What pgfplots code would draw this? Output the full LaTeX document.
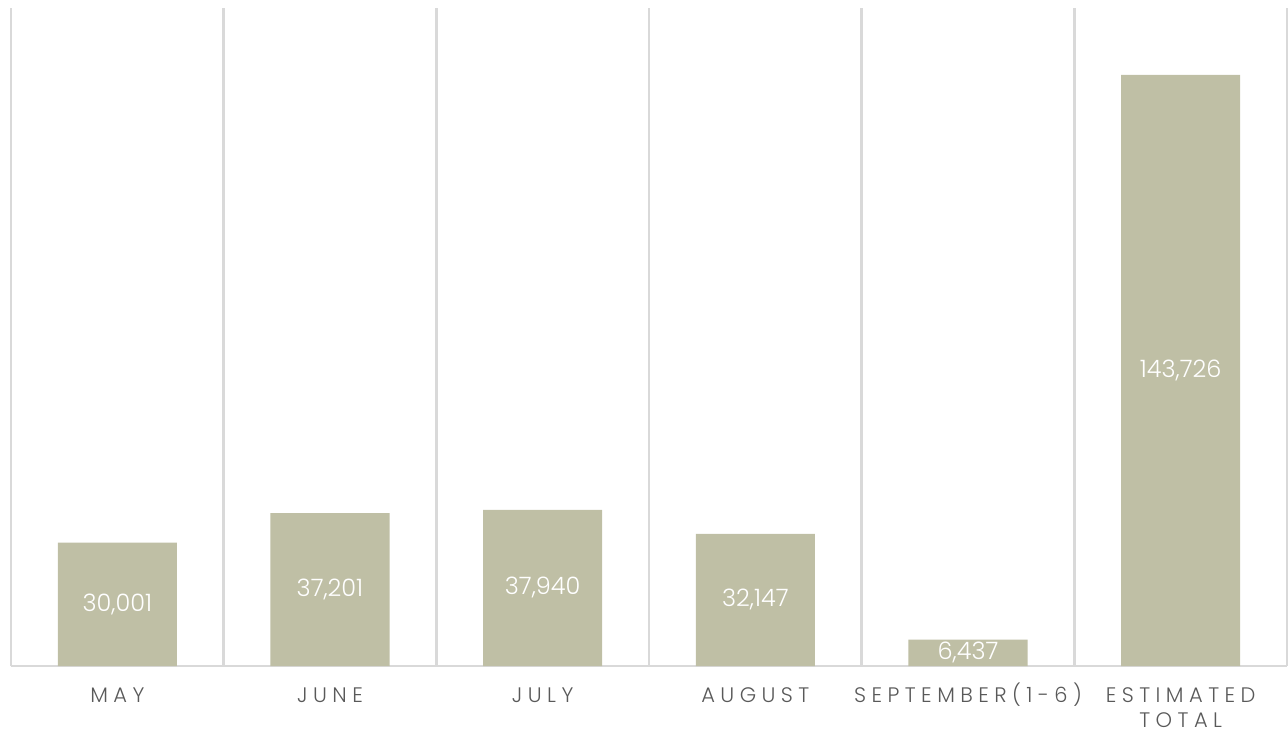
\documentclass[border=0pt]{standalone}
\usepackage{pgfplots}
\pgfplotsset{compat=1.18}
\usepackage{pgfplotstable}
\usepackage{fontspec}
\setmainfont{Poppins Light}
\newfontfamily\lblfont[LetterSpace=26]{Poppins Light}
\newcommand\tstrut{\rule{0pt}{11bp}}
\definecolor{barc}{RGB}{191,191,165}
\definecolor{gridc}{RGB}{217,217,217}
\definecolor{txtc}{RGB}{89,89,89}
\pgfplotstableread{
x v label
0 30001 30,001
1 37201 37,201
2 37940 37,940
3 32147 32,147
4 6437 6,437
5 143726 143,726
}\datatab
\begin{document}
\begin{tikzpicture}[x=1pt,y=1pt]
\useasboundingbox (-5.5bp,-34.5bp) rectangle (638.5bp,333bp);
\begin{axis}[
  at={(0,0)}, anchor=south west,
  scale only axis,
  width=638bp, height=329bp,
  xmin=-0.5, xmax=5.5,
  ymin=0, ymax=160000,
  axis x line=bottom,
  axis y line=none,
  x axis line style={gridc, line width=1.2bp, -},
  xtick={0,...,5},
  xticklabels={\tstrut MAY,\tstrut JUNE,\tstrut JULY,\tstrut AUGUST,\tstrut SEPTEMBER(1-6),{\tstrut ESTIMATED\\TOTAL}},
  xticklabel style={font=\lblfont\fontsize{10.5bp}{12.5bp}\selectfont, text=txtc, align=center, anchor=north, yshift=-3.5bp},
  major tick length=0pt,
  minor xtick={-0.5,0.5,...,5.5},
  minor tick length=0pt,
  xminorgrids=true,
  minor grid style={gridc, line width=1.2bp},
  ytick=\empty,
  clip=false,
]
\addplot[ybar, bar width=0.56, fill=barc, draw=none] table[x=x,y=v] {\datatab};
\addplot[only marks, mark=none, nodes near coords, point meta=explicit symbolic,
  nodes near coords style={anchor=center, text=white, font=\fontsize{12bp}{14bp}\selectfont}]
  table[x=x, y expr=\thisrow{v}/2, meta=label] {\datatab};
\end{axis}
\end{tikzpicture}
\end{document}
